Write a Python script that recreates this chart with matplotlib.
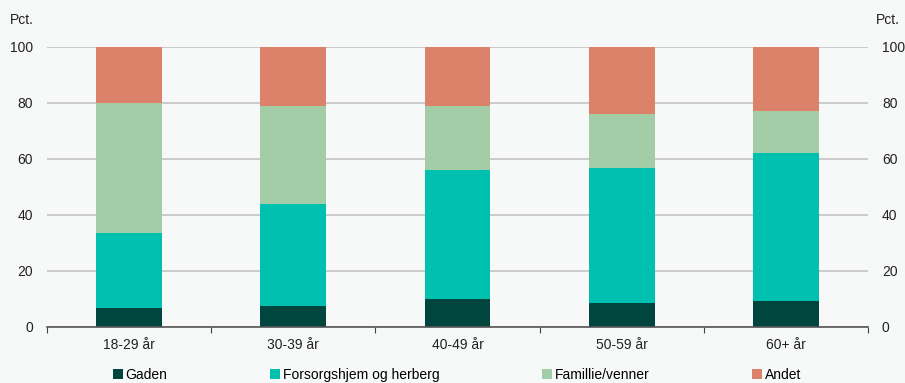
import matplotlib
matplotlib.use("Agg")
import matplotlib.pyplot as plt
import numpy as np
from matplotlib.patches import Patch

plt.rcParams['font.family'] = ['Liberation Sans', 'DejaVu Sans']

categories = ["18-29 år", "30-39 år", "40-49 år", "50-59 år", "60+ år"]
series_names = ["Gaden", "Forsorgshjem og herberg", "Famillie/venner", "Andet"]
gaden = [6.7, 7.6, 10.1, 8.5, 9.2]
forsorg = [27.0, 36.3, 46.0, 48.3, 53.1]
familie = [46.2, 35.1, 22.9, 19.2, 14.8]
andet = [20.1, 21.0, 21.0, 24.0, 22.9]
colors = ["#00463f", "#00c0b0", "#a3cda6", "#dd826a"]
yticks = [0, 20, 40, 60, 80, 100]

bg = "#f7f9f8"
fig = plt.figure(figsize=(9.05, 3.83), dpi=100, facecolor=bg)
ax = fig.add_axes([47/905, 1-327/383, (868-47)/905, (327-47)/383], facecolor=bg)

x = np.arange(len(categories))
bottom = np.zeros(len(categories))
for vals, c in zip([gaden, forsorg, familie, andet], colors):
    ax.bar(x, vals, width=0.4, bottom=bottom, color=c, zorder=3)
    bottom += np.array(vals)

ax.set_xlim(-0.5, len(categories) - 0.5)
ax.set_ylim(0, 100)
ax.set_yticks(yticks)
ax.grid(axis='y', color='#c4c4c4', linewidth=1.2, zorder=0)
ax.tick_params(axis='y', length=0, labelsize=10, pad=10, labelright=True, right=False)
for lbl in ax.get_yticklabels():
    lbl.set_color('#222222')

ax.set_xticks(x)
ax.set_xticklabels(categories, fontsize=10, color='#222222')
ax.tick_params(axis='x', which='major', length=0, pad=8)
ax.set_xticks(np.arange(-0.5, len(categories)), minor=True)
ax.tick_params(axis='x', which='minor', length=4, color='#444444', width=0.8)

for s in ['top', 'left', 'right']:
    ax.spines[s].set_visible(False)
ax.spines['bottom'].set_color('#555555')
ax.spines['bottom'].set_linewidth(1.2)
ax.spines['bottom'].set_zorder(4)

fig.text(10/905, 1-20/383, "Pct.", fontsize=10, va='center', ha='left', color='#222222')
fig.text(900/905, 1-20/383, "Pct.", fontsize=10, va='center', ha='right', color='#222222')

handles = [Patch(facecolor=c, edgecolor='none') for c in colors]
fig.legend(handles, series_names, loc='center', bbox_to_anchor=(0.505, 1-375/383),
           ncol=4, frameon=False, fontsize=10, handlelength=0.7, handleheight=0.7,
           handletextpad=0.2, columnspacing=7.4)

fig.savefig("out.png", dpi=100, facecolor=bg)
